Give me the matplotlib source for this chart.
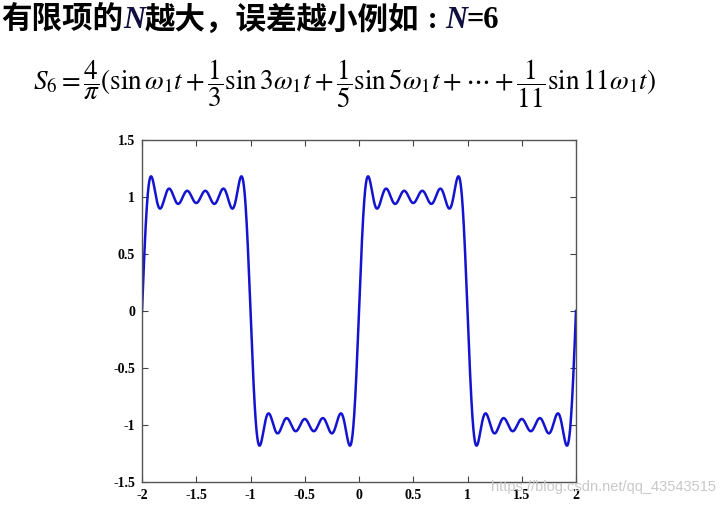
import numpy as np
import matplotlib
matplotlib.use("Agg")
import matplotlib.pyplot as plt

# ---- data ----
harmonics = [1, 3, 5, 7, 9, 11]              # odd harmonics used in S_6
coeffs = [1, 1/3, 1/5, 1/7, 1/9, 1/11]       # amplitudes of each sine term
gain = 4 / np.pi
omega1 = np.pi                                # fundamental (period = 2)
x_ticks = [-2, -1.5, -1, -0.5, 0, 0.5, 1, 1.5, 2]
x_labels = ["-2", "-1.5", "-1", "-0.5", "0", "0.5", "1", "1.5", "2"]
y_ticks = [-1.5, -1, -0.5, 0, 0.5, 1, 1.5]
y_labels = ["-1.5", "-1", "-0.5", "0", "0.5", "1", "1.5"]

t = np.linspace(-2, 2, 3000)
s6 = gain * sum(c * np.sin(k * omega1 * t) for k, c in zip(harmonics, coeffs))

plt.rcParams['mathtext.fontset'] = 'stix'
fig = plt.figure(figsize=(7.26, 5.05), dpi=100)
ax = fig.add_axes([142/726, 23/505, 434/726, 342/505])
ax.plot(t, s6, color='#1414d0', lw=1.8)
ax.set_xlim(-2, 2)
ax.set_ylim(-1.5, 1.5)
ax.set_xticks(x_ticks)
ax.set_xticklabels(x_labels)
ax.set_yticks(y_ticks)
ax.set_yticklabels(y_labels)
ax.tick_params(direction='in', length=4, width=0.8, top=True, right=True,
               colors='#444444', labelcolor='black', pad=5)
for lab in ax.get_xticklabels() + ax.get_yticklabels():
    lab.set_fontfamily('Liberation Serif')
    lab.set_fontweight('bold')
    lab.set_fontsize(10)
for sp in ax.spines.values():
    sp.set_color('#555555')
    sp.set_linewidth(1.0)

# ---- title line with mixed fonts ----
renderer = fig.canvas.get_renderer()
pieces = [
    ("有限项的", dict(family=['Noto Sans CJK SC'], weight='bold', color='black')),
    ("N", dict(family=['Liberation Serif'], weight='bold', style='italic', color='#101040')),
    ("越大，误差越小例如", dict(family=['Noto Sans CJK SC'], weight='bold', color='black')),
    (" : ", dict(family=['Liberation Serif'], weight='bold', color='black')),
    ("N", dict(family=['Liberation Serif'], weight='bold', style='italic', color='#101040')),
    ("=6", dict(family=['Liberation Serif'], weight='bold', color='black')),
]
x0 = 1
for txt, kw in pieces:
    tt = fig.text(x0 / 726, 1 - 20 / 505, txt, fontsize=22, va='center', ha='left', **kw)
    bb = tt.get_window_extent(renderer=renderer)
    x0 = bb.x1

formula = (r'$S_6=\dfrac{4}{\pi}(\mathrm{sin}\,\omega_1 t+\dfrac{1}{3}\mathrm{sin}\,3\omega_1 t'
           r'+\dfrac{1}{5}\mathrm{sin}\,5\omega_1 t+\cdots+\dfrac{1}{11}\mathrm{sin}\,11\omega_1 t)$')
fig.text(33 / 726, 1 - 84 / 505, formula, fontsize=19.5, va='center', ha='left')

fig.text(716 / 726, 1 - 487 / 505, "https://blog.csdn.net/qq_43543515",
         fontsize=10.5, family='Liberation Sans', color='#c8c8c8', ha='right', va='center')

fig.savefig("out.png", dpi=100)
